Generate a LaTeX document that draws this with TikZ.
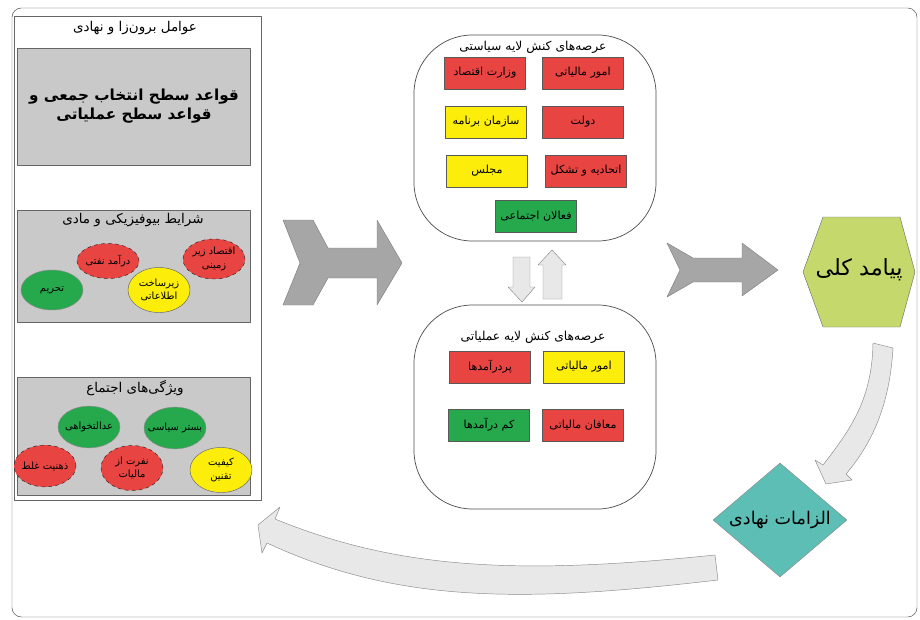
\documentclass[tikz,border=0pt]{standalone}
\usepackage{fontspec}
\usetikzlibrary{shapes.geometric}
\newfontfamily\farsi[Script=Arabic]{DejaVu Sans}
\TeXXeTstate=1
\newcommand\fa[1]{\beginR #1\endR}
\newcommand\fz[1]{\makebox[0pt]{\beginR #1\endR}}
\definecolor{fillred}{RGB}{232,68,66}
\definecolor{fillyellow}{RGB}{252,238,10}
\definecolor{fillgreen}{RGB}{38,168,76}
\definecolor{fillhex}{RGB}{196,216,108}
\definecolor{filldiam}{RGB}{92,190,180}
\begin{document}
\begin{tikzpicture}[x=0.03cm, y=-0.03cm, line join=round,
  font=\farsi\fontsize{9.5}{11}\selectfont,
  actbox/.style={draw=black!65, minimum width=2.43cm, minimum height=0.95cm, inner sep=1pt},
  redbox/.style={actbox, fill=fillred},
  yellowbox/.style={actbox, fill=fillyellow},
  greenbox/.style={actbox, fill=fillgreen},
  factor/.style={ellipse, minimum width=1.86cm, inner sep=0pt, align=center,
    font=\farsi\fontsize{8.5}{11.5}\selectfont},
  redfactor/.style={factor, draw=black!85, dashed, fill=fillred},
  greenfactor/.style={factor, draw=black!45, fill=fillgreen},
  yellowfactor/.style={factor, draw=black!60, fill=fillyellow},
  graybox/.style={draw=black!60, fill=black!21},
  lobe/.style={draw=black!70, line width=0.6pt, rounded corners=1.75cm},
  headtext/.style={font=\farsi\fontsize{11.5}{13}\selectfont},
  lobetext/.style={font=\farsi\fontsize{10.5}{12}\selectfont},
  blockarrow/.style={draw=black!45, fill=black!9},
  chevron/.style={draw=black!50, fill=black!35}]
  \useasboundingbox (0,0) rectangle (920,620);
  \draw [black!70, rounded corners=8] (12,8) rectangle (917,617);

  \draw [black!60] (14,16) rectangle (261,500);
  \node [headtext] (exotitle) at (135,28) {\fa{عوامل برون‌زا و نهادی}};
  \draw [graybox] (17,48) rectangle (250,165);
  \node [align=center, font=\farsi\bfseries\fontsize{13}{15.5}\selectfont] (rules) at (134,106)
    {\fa{قواعد سطح انتخاب جمعی و}\\\fa{قواعد سطح عملیاتی}};

  \draw [graybox] (17,210) rectangle (250,322);
  \node [headtext] (biotitle) at (133,220) {\fa{شرایط بیوفیزیکی و مادی}};
  \node [greenfactor, minimum height=1.2cm] (sanction) at (52,290) {\fz{تحریم}};
  \node [redfactor, minimum height=1.05cm] (oil) at (108,261) {\fz{درآمد نفتی}};
  \node [yellowfactor, minimum height=1.35cm] (infra) at (159,290) {\fz{زیرساخت}\\\fz{اطلاعاتی}};
  \node [redfactor, minimum height=1.2cm] (shadow) at (214,259) {\fz{اقتصاد زیر}\\\fz{زمینی}};

  \draw [graybox] (17,377) rectangle (250,495);
  \node [headtext] (commtitle) at (135,388) {\fa{ویژگی‌های اجتماع}};
  \node [greenfactor, minimum height=1.25cm] (justice) at (89,427) {\fz{عدالتخواهی}};
  \node [greenfactor, minimum height=1.25cm] (politics) at (175,428) {\fz{بستر سیاسی}};
  \node [redfactor, minimum height=1.25cm] (mindset) at (45,466) {\fz{ذهنیت غلط}};
  \node [redfactor, minimum height=1.35cm] (hatred) at (132,468) {\fz{نفرت از}\\\fz{مالیات}};
  \node [yellowfactor, minimum height=1.35cm] (lawq) at (221,470) {\fz{کیفیت}\\\fz{تقنین}};

  \draw [chevron] (283,220) -- (313,220) -- (328,248) -- (377,248) -- (377,220) -- (402,263)
    -- (377,305) -- (377,278) -- (328,278) -- (313,305) -- (283,305) -- (300,263) -- cycle;

  \draw [lobe] (414,35) rectangle (656,241);
  \node [lobetext] (poltitle) at (533,47) {\fa{عرصه‌های کنش لایه سیاستی}};
  \node [redbox] (taxaff) at (583,73) {\fa{امور مالیاتی}};
  \node [redbox] (ministry) at (485,73) {\fa{وزارت اقتصاد}};
  \node [redbox] (govt) at (583,122) {\fa{دولت}};
  \node [yellowbox] (planorg) at (486,122) {\fa{سازمان برنامه}};
  \node [redbox] (unions) at (586,171) {\fa{اتحادیه و تشکل}};
  \node [yellowbox] (parliament) at (487,171) {\fa{مجلس}};
  \node [greenbox] (activists) at (536,216) {\fa{فعالان اجتماعی}};

  \draw [blockarrow] (513,257) -- (530,257) -- (530,287) -- (535,287) -- (522,302)
    -- (508,287) -- (513,287) -- cycle;
  \draw [blockarrow] (543,299) -- (562,299) -- (562,265) -- (566,265) -- (552,250)
    -- (538,265) -- (543,265) -- cycle;

  \draw [lobe] (414,305) rectangle (656,509);
  \node [lobetext] (optitle) at (533,337) {\fa{عرصه‌های کنش لایه عملیاتی}};
  \node [yellowbox] (taxaff2) at (584,367) {\fa{امور مالیاتی}};
  \node [redbox] (highinc) at (490,367) {\fa{پردرآمدها}};
  \node [redbox] (exempt) at (583,425) {\fa{معافان مالیاتی}};
  \node [greenbox] (lowinc) at (489,425) {\fa{کم درآمدها}};

  \draw [chevron] (667,243) -- (693,258) -- (742,258) -- (742,243) -- (778,270) -- (742,296)
    -- (742,282) -- (693,282) -- (667,297) -- (680,270) -- cycle;

  \draw [draw=black!55, fill=fillhex] (803,272) -- (823,217) -- (900,217) -- (915,272)
    -- (900,327) -- (823,327) -- cycle;
  \node [font=\farsi\fontsize{19}{21}\selectfont] (outcome) at (859,270) {\fa{پیامد کلی}};

  \draw [blockarrow] (873,343) -- (893,348) .. controls (890,400) and (875,440) .. (846,474)
    -- (852,480) -- (826,484) -- (815,460) -- (823,465)
    .. controls (850,430) and (872,400) .. (873,343) -- cycle;

  \node [diamond, draw=black!45, fill=filldiam, minimum width=4.02cm, minimum height=3.42cm,
    inner sep=0pt, font=\farsi\fontsize{15}{17}\selectfont] (constraints) at (780,520)
    {\fz{الزامات نهادی}};

  \draw [blockarrow] (715,555) .. controls (520,575) and (400,570) .. (275,519) -- (280,507)
    -- (258,525) -- (262,553) -- (267,543) .. controls (400,605) and (530,602) .. (718,580) -- cycle;
\end{tikzpicture}
\end{document}
